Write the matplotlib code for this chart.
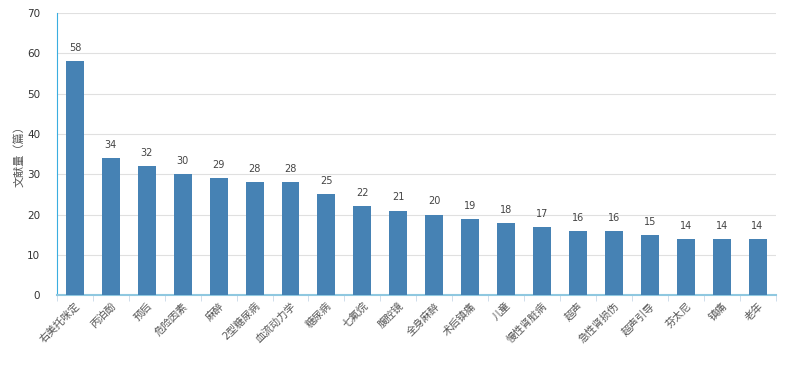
import numpy as np
import matplotlib.pyplot as plt

plt.rcParams['font.family'] = ['DejaVu Sans', 'Noto Sans CJK SC']

# 关键词及文献量
keywords = ["右美托咪定", "丙泊酚", "预后", "危险因素", "麻醉", "2型糖尿病", "血流动力学",
            "糖尿病", "七氟烷", "腹腔镜", "全身麻醉", "术后镇痛", "儿童", "慢性肾脏病",
            "超声", "急性肾损伤", "超声引导", "芬太尼", "镇痛", "老年"]
counts = [58, 34, 32, 30, 29, 28, 28, 25, 22, 21, 20, 19, 18, 17, 16, 16, 15, 14, 14, 14]
yticks = [0, 10, 20, 30, 40, 50, 60, 70]

fig = plt.figure(figsize=(7.87, 3.92), dpi=100)
ax = fig.add_axes([0.0724, 0.247, 0.913, 0.72])

x = np.arange(len(keywords))
bars = ax.bar(x, counts, width=0.5, color='#4682b4', zorder=3)
for xi, v in zip(x, counts):
    ax.text(xi, v + 2, str(v), ha='center', va='bottom', fontsize=7, color='#444444')

ax.set_xlim(-0.5, len(keywords) - 0.5)
ax.set_ylim(0, 70)
ax.set_yticks(yticks)
ax.grid(axis='y', color='#e0e0e0', linewidth=0.8, zorder=0)

# 刻度线放在类目之间
ax.set_xticks(x)
ax.set_xticklabels(keywords, rotation=45, ha='right', rotation_mode='anchor',
                   fontsize=7.5, color='#555555')
ax.set_xticks(np.arange(-0.5, len(keywords), 1), minor=True)
ax.tick_params(axis='x', which='major', length=0, pad=4)
ax.tick_params(axis='x', which='minor', length=4, color='#c8d8e8')
ax.tick_params(axis='y', length=0, labelsize=7.5, labelcolor='#333333', pad=12)

for s in ['top', 'right']:
    ax.spines[s].set_visible(False)
ax.spines['left'].set_color('#3aaee0')
ax.spines['bottom'].set_color('#8fc8e0')
ax.spines['bottom'].set_linewidth(1.5)

ax.set_ylabel("文献量（篇）", fontsize=8, color='#555555', labelpad=2)

plt.savefig('out.png', dpi=100)
